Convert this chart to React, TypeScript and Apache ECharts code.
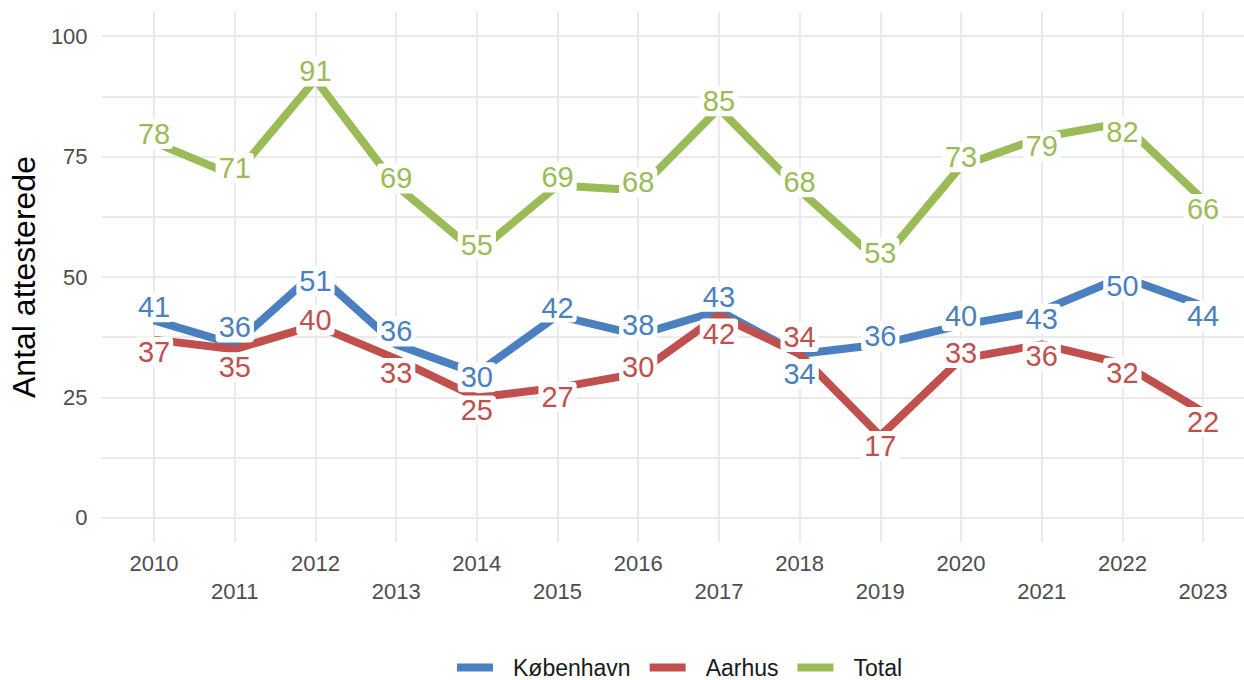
import React, { useEffect, useRef } from 'react';
import * as echarts from 'echarts';

const years = [2010, 2011, 2012, 2013, 2014, 2015, 2016, 2017, 2018, 2019, 2020, 2021, 2022, 2023];
const kobenhavn = [41, 36, 51, 36, 30, 42, 38, 43, 34, 36, 40, 43, 50, 44];
const aarhus = [37, 35, 40, 33, 25, 27, 30, 42, 34, 17, 33, 36, 32, 22];
const total = [78, 71, 91, 69, 55, 69, 68, 85, 68, 53, 73, 79, 82, 66];
const seriesNames = ['København', 'Aarhus', 'Total'];
const yLabelTicks = [0, 25, 50, 75, 100];
const yGridTicks = [0, 12.5, 25, 37.5, 50, 62.5, 75, 87.5, 100];
const yTitle = 'Antal attesterede';

// label nudges in pixels (style only), mimicking repelled labels
const kbhNudge = [-13, -17, 9, -13, 4, -8, -10, -14, 20, -8, -9, 8, 9, 10];
const aarNudge = [12, 18, -5, 14, 13, 9, -6, 18, -17, 10, -6, 12, 9, 10];
const totNudge = [-8, -8, -8, -7, -8, -8, -8, -7, -8, -10, -9, 9, 9, 9];

const colors = ['#4A7FC0', '#C0504D', '#9BBB59'];
const FONT = '"Liberation Sans", Arial, Helvetica, sans-serif';

export default function App() {
  const ref = useRef<HTMLDivElement>(null);
  useEffect(() => {
    if (!ref.current) return;
    const chart = echarts.init(ref.current, undefined, { renderer: 'svg' });
    const values = [kobenhavn, aarhus, total];
    const nudges = [kbhNudge, aarNudge, totNudge];
    const lineSeries = values.map((vals, s) => ({
      name: seriesNames[s],
      type: 'line',
      data: years.map((y, i) => [y, vals[i]]),
      showSymbol: false,
      symbol: 'none',
      lineStyle: { width: 8, color: colors[s], cap: 'butt', join: 'round', opacity: 1 },
      itemStyle: { color: colors[s] },
      z: 2,
      silent: true,
    }));
    const labelSeries = values.map((vals, s) => ({
      name: seriesNames[s] + '-labels',
      type: 'scatter',
      data: years.map((y, i) => ({
        value: [y, vals[i]],
        label: { offset: [0, nudges[s][i]] },
      })),
      symbolSize: 1,
      itemStyle: { color: 'rgba(255,255,255,0)', opacity: 1 },
      z: 10,
      silent: true,
      label: {
        show: true,
        position: 'inside',
        formatter: (p: any) => String(p.value[1]),
        color: colors[s],
        fontSize: 29,
        fontFamily: FONT,
        backgroundColor: '#ffffff',
        padding: [1, 3, 0, 3],
        borderRadius: 4,
        opacity: 1,
      },
    }));
    chart.setOption({
      animation: false,
      backgroundColor: '#ffffff',
      textStyle: { fontFamily: FONT },
      grid: { left: 99.5, right: 0, top: 12, bottom: 138, containLabel: false },
      xAxis: {
        type: 'value',
        min: 2009.35,
        max: 2023.507,
        axisLine: { show: false },
        axisTick: { show: false, customValues: years },
        splitLine: { show: true, lineStyle: { color: '#EBEBEB', width: 2 } },
        axisLabel: {
          customValues: years,
          fontSize: 22,
          color: '#4D4D4D',
          fontFamily: FONT,
          margin: 8,
          lineHeight: 27.5,
          formatter: (v: number) => (v % 2 === 0 ? String(v) : '\n' + String(v)),
        },
      },
      yAxis: {
        type: 'value',
        min: -5,
        max: 105,
        name: yTitle,
        nameLocation: 'middle',
        nameGap: 60,
        nameTextStyle: { fontSize: 32, color: '#000000', fontFamily: FONT },
        axisLine: { show: false },
        axisTick: { show: false, customValues: yGridTicks },
        splitLine: { show: true, lineStyle: { color: '#EBEBEB', width: 2 } },
        axisLabel: {
          customValues: yLabelTicks,
          fontSize: 22,
          color: '#4D4D4D',
          fontFamily: FONT,
          margin: 14,
        },
      },
      legend: {
        data: seriesNames,
        left: 457,
        top: 656,
        padding: 0,
        icon: 'rect',
        itemWidth: 36,
        itemHeight: 8,
        itemGap: 19,
        textStyle: { fontSize: 23, color: '#1A1A1A', fontFamily: FONT, padding: [0, 0, 0, 15] },
        selectedMode: false,
      },
      series: [...lineSeries, ...labelSeries],
    });
    return () => chart.dispose();
  }, []);
  return (
    <div
      ref={ref}
      style={{ position: 'fixed', left: 0, top: 0, width: 1244, height: 680, background: '#fff' }}
    />
  );
}
